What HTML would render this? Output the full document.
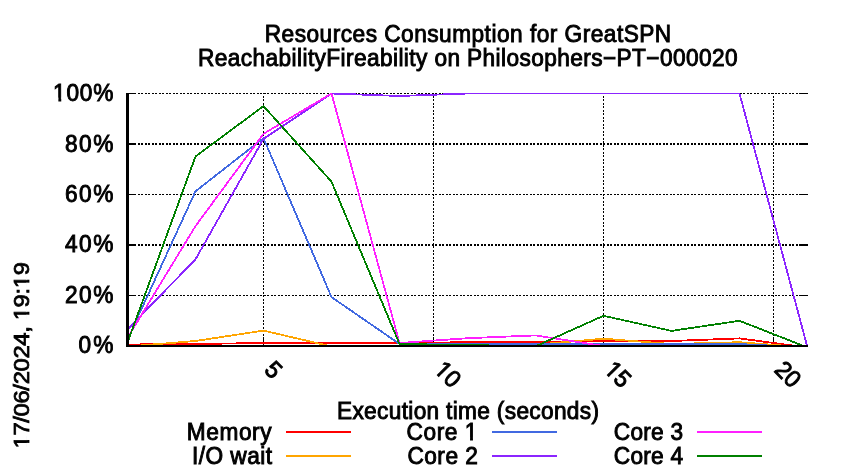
<!DOCTYPE html>
<html><head><meta charset="utf-8"><title>chart</title>
<style>
html,body{margin:0;padding:0;background:#fff;}
body{width:850px;height:475px;overflow:hidden;}
svg{display:block;will-change:transform;}
text{font-family:"Liberation Sans",sans-serif;font-size:22.67px;fill:#000;stroke:#000;stroke-width:0.9px;}
text.xt{font-size:23px;}
text.yl{stroke-width:0.8px;}
</style></head><body>
<svg width="850" height="475" viewBox="0 0 850 475">
<defs><clipPath id="cp"><rect x="126" y="93" width="690" height="253"/></clipPath></defs>
<rect width="850" height="475" fill="#fff"/>
<g stroke="#000" shape-rendering="crispEdges">
<line x1="129" y1="93.5" x2="136" y2="93.5" stroke-width="1"/>
<line x1="138" y1="93.5" x2="798" y2="93.5" stroke-width="1" stroke-dasharray="2,1,2,2"/>
<line x1="799" y1="93.5" x2="808" y2="93.5" stroke-width="1"/>
<line x1="129" y1="144.0" x2="136" y2="144.0" stroke-width="2"/>
<line x1="138" y1="144.0" x2="798" y2="144.0" stroke-width="2" stroke-dasharray="2,1,2,2"/>
<line x1="799" y1="144.0" x2="808" y2="144.0" stroke-width="2"/>
<line x1="129" y1="194.5" x2="136" y2="194.5" stroke-width="1"/>
<line x1="138" y1="194.5" x2="798" y2="194.5" stroke-width="1" stroke-dasharray="2,1,2,2"/>
<line x1="799" y1="194.5" x2="808" y2="194.5" stroke-width="1"/>
<line x1="129" y1="245.0" x2="136" y2="245.0" stroke-width="2"/>
<line x1="138" y1="245.0" x2="798" y2="245.0" stroke-width="2" stroke-dasharray="2,1,2,2"/>
<line x1="799" y1="245.0" x2="808" y2="245.0" stroke-width="2"/>
<line x1="129" y1="295.5" x2="136" y2="295.5" stroke-width="1"/>
<line x1="138" y1="295.5" x2="798" y2="295.5" stroke-width="1" stroke-dasharray="2,1,2,2"/>
<line x1="799" y1="295.5" x2="808" y2="295.5" stroke-width="1"/>
<line x1="263.5" y1="93" x2="263.5" y2="337" stroke-width="1" stroke-dasharray="2,1,2,2" stroke-dashoffset="4"/>
<line x1="263.5" y1="337" x2="263.5" y2="345" stroke-width="1"/>
<line x1="433.5" y1="93" x2="433.5" y2="337" stroke-width="1" stroke-dasharray="2,1,2,2" stroke-dashoffset="4"/>
<line x1="433.5" y1="337" x2="433.5" y2="345" stroke-width="1"/>
<line x1="603.5" y1="93" x2="603.5" y2="337" stroke-width="1" stroke-dasharray="2,1,2,2" stroke-dashoffset="4"/>
<line x1="603.5" y1="337" x2="603.5" y2="345" stroke-width="1"/>
<line x1="773.5" y1="93" x2="773.5" y2="337" stroke-width="1" stroke-dasharray="2,1,2,2" stroke-dashoffset="4"/>
<line x1="773.5" y1="337" x2="773.5" y2="345" stroke-width="1"/>
</g>
<g shape-rendering="crispEdges" clip-path="url(#cp)">
<polyline points="127.5,344.5 195.5,344.0 263.5,343.0 331.5,343.0 399.5,343.0 467.5,342.2 535.5,342.0 603.5,341.0 671.5,341.0 739.5,338.4 807.5,347.5" fill="none" stroke="#ff0000" stroke-width="1.8" stroke-linejoin="round"/>
<polyline points="127.5,346.5 195.5,341.0 263.5,330.6 331.5,346.5 399.5,346.5 467.5,346.5 535.5,344.7 603.5,338.7 671.5,344.0 739.5,342.2 807.5,347.5" fill="none" stroke="#ffa500" stroke-width="1.8" stroke-linejoin="round"/>
<polyline points="127.5,339.5 195.5,191.3 263.5,138.1 331.5,297.1 399.5,344.0 467.5,344.0 535.5,344.0 603.5,344.0 671.5,344.0 739.5,344.0 807.5,347.5" fill="none" stroke="#4169e1" stroke-width="1.8" stroke-linejoin="round"/>
<polyline points="127.5,329.4 195.5,259.3 263.5,138.9 331.5,93.5 399.5,96.0 467.5,93.5 535.5,93.5 603.5,93.5 671.5,93.5 739.5,93.5 807.5,347.5" fill="none" stroke="#8b25ff" stroke-width="1.8" stroke-linejoin="round"/>
<polyline points="127.5,337.9 195.5,226.1 263.5,133.8 331.5,93.5 399.5,343.0 467.5,338.2 535.5,335.4 603.5,346.0 671.5,346.5 739.5,346.5 807.5,347.5" fill="none" stroke="#ff20ff" stroke-width="1.8" stroke-linejoin="round"/>
<polyline points="127.5,342.5 195.5,156.5 263.5,106.1 331.5,181.7 399.5,344.0 467.5,345.0 535.5,346.3 603.5,315.8 671.5,330.9 739.5,320.8 807.5,347.5" fill="none" stroke="#008000" stroke-width="1.8" stroke-linejoin="round"/>
</g>
<g fill="#000" shape-rendering="crispEdges">
<rect x="126" y="93" width="3" height="254"/>
<rect x="126" y="345" width="682" height="2"/>
</g>
<g>
<text transform="translate(468,41.8) scale(1,1.04)" text-anchor="middle" textLength="406.5" lengthAdjust="spacing">Resources Consumption for GreatSPN</text>
<text transform="translate(467.8,65.9) scale(1,1.04)" text-anchor="middle" textLength="539.5" lengthAdjust="spacing">ReachabilityFireability on Philosophers−PT−000020</text>

<text transform="translate(113.4,352.9) scale(1,1.04)" text-anchor="end" textLength="34.9" lengthAdjust="spacing">0%</text>
<text transform="translate(113.4,302.9) scale(1,1.04)" text-anchor="end" textLength="48.4" lengthAdjust="spacing">20%</text>
<text transform="translate(113.4,252.4) scale(1,1.04)" text-anchor="end" textLength="48.4" lengthAdjust="spacing">40%</text>
<text transform="translate(113.4,202.0) scale(1,1.04)" text-anchor="end" textLength="48.4" lengthAdjust="spacing">60%</text>
<text transform="translate(113.4,151.6) scale(1,1.04)" text-anchor="end" textLength="48.4" lengthAdjust="spacing">80%</text>
<text transform="translate(113.4,100.8) scale(1,1.04)" text-anchor="end" textLength="60.3" lengthAdjust="spacing">100%</text>

<text class="xt" transform="translate(263.2,371) rotate(45) scale(1,1.04)" text-anchor="start">5</text>
<text class="xt" transform="translate(433.2,371) rotate(45) scale(1,1.04)" text-anchor="start">10</text>
<text class="xt" transform="translate(603.2,371) rotate(45) scale(1,1.04)" text-anchor="start">15</text>
<text class="xt" transform="translate(773.2,371) rotate(45) scale(1,1.04)" text-anchor="start">20</text>

<text transform="translate(468,418.7) scale(1,1.04)" text-anchor="middle" textLength="262" lengthAdjust="spacing">Execution time (seconds)</text>
<text class="yl" transform="translate(29.3,355.3) rotate(-90) scale(1.05,1.0)" text-anchor="middle" textLength="177.5" lengthAdjust="spacing">17/06/2024, 19:19</text>

<text transform="translate(271.5,440.0) scale(1,1.04)" text-anchor="end" textLength="84.7" lengthAdjust="spacing">Memory</text>
<line x1="286" y1="432" x2="351" y2="432" stroke="#ff0000" stroke-width="2" shape-rendering="crispEdges"/>
<text transform="translate(272.1,464.0) scale(1,1.04)" text-anchor="end" textLength="80.2" lengthAdjust="spacing">I/O wait</text>
<line x1="286" y1="456" x2="351" y2="456" stroke="#ffa500" stroke-width="2" shape-rendering="crispEdges"/>
<text transform="translate(477.4,440.0) scale(1,1.04)" text-anchor="end" textLength="70.8" lengthAdjust="spacing">Core 1</text>
<line x1="492" y1="432" x2="557" y2="432" stroke="#4169e1" stroke-width="2" shape-rendering="crispEdges"/>
<text transform="translate(477.9,464.0) scale(1,1.04)" text-anchor="end" textLength="70.5" lengthAdjust="spacing">Core 2</text>
<line x1="492" y1="456" x2="557" y2="456" stroke="#8b25ff" stroke-width="2" shape-rendering="crispEdges"/>
<text transform="translate(683,440.0) scale(1,1.04)" text-anchor="end" textLength="69.2" lengthAdjust="spacing">Core 3</text>
<line x1="697" y1="432" x2="762" y2="432" stroke="#ff20ff" stroke-width="2" shape-rendering="crispEdges"/>
<text transform="translate(683,464.0) scale(1,1.04)" text-anchor="end" textLength="69.2" lengthAdjust="spacing">Core 4</text>
<line x1="697" y1="456" x2="762" y2="456" stroke="#008000" stroke-width="2" shape-rendering="crispEdges"/>

</g>
<g fill="#fff"><g transform="translate(113.4,100.8) scale(1,1.04)"><rect x="-60.22" y="-3.04" width="5.17" height="4.79"/><rect x="-52.15" y="-3.04" width="5.00" height="4.79"/></g>
<g transform="translate(433.2,371) rotate(45) scale(1,1.04)"><rect x="0.10" y="-3.07" width="5.23" height="4.82"/><rect x="8.27" y="-3.07" width="5.05" height="4.82"/></g>
<g transform="translate(603.2,371) rotate(45) scale(1,1.04)"><rect x="0.10" y="-3.07" width="5.23" height="4.82"/><rect x="8.27" y="-3.07" width="5.05" height="4.82"/></g>
<g transform="translate(29.3,355.3) rotate(-90) scale(1.05,1.0)"><rect x="-88.62" y="-2.99" width="5.17" height="4.69"/><rect x="-80.65" y="-2.99" width="5.00" height="4.69"/></g>
<g transform="translate(29.3,355.3) rotate(-90) scale(1.05,1.0)"><rect x="33.48" y="-2.99" width="5.17" height="4.69"/><rect x="41.45" y="-2.99" width="5.00" height="4.69"/></g>
<g transform="translate(29.3,355.3) rotate(-90) scale(1.05,1.0)"><rect x="64.00" y="-2.99" width="5.17" height="4.69"/><rect x="71.98" y="-2.99" width="5.00" height="4.69"/></g>
<g transform="translate(477.4,440.0) scale(1,1.04)"><rect x="-12.53" y="-3.04" width="5.17" height="4.79"/><rect x="-4.45" y="-3.04" width="5.00" height="4.79"/></g>
</g>
</svg>
</body></html>
